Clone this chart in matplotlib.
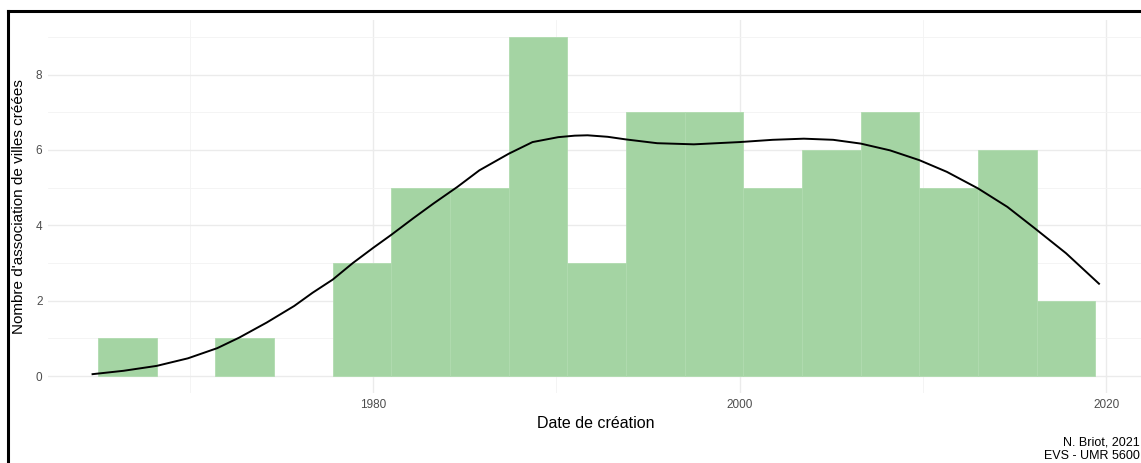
import matplotlib
matplotlib.use("Agg")
import matplotlib.pyplot as plt
from matplotlib.lines import Line2D
import numpy as np

plt.rcParams['font.family'] = ['Liberation Sans', 'DejaVu Sans']

# Histogram bins (year edges) and counts
bin_start = 1965.0
bin_width = 3.2
counts = [1, 0, 1, 0, 3, 5, 5, 9, 3, 7, 7, 5, 6, 7, 5, 6, 2]

# Density curve (scaled to counts)
curve_years = [1964.7, 1966.4, 1968.2, 1969.9, 1971.5, 1972.7, 1974.2, 1975.7,
               1976.7, 1977.8, 1978.9, 1980.0, 1981.0, 1982.2, 1983.3, 1984.6,
               1985.8, 1987.4, 1988.7, 1990.1, 1991.0, 1991.7, 1992.8, 1993.8,
               1995.5, 1997.5, 2000.0, 2001.8, 2003.5, 2005.1, 2006.6, 2008.2,
               2009.8, 2011.3, 2013.0, 2014.6, 2016.1, 2017.8, 2019.6]
curve_vals = [0.05, 0.14, 0.27, 0.47, 0.74, 1.02, 1.42, 1.86,
              2.21, 2.56, 3.00, 3.40, 3.75, 4.19, 4.58, 5.02,
              5.46, 5.90, 6.21, 6.34, 6.38, 6.39, 6.35, 6.28,
              6.18, 6.15, 6.21, 6.27, 6.30, 6.27, 6.17, 5.99,
              5.73, 5.42, 4.98, 4.49, 3.92, 3.26, 2.45]

x_ticks = [1980, 2000, 2020]
x_minor = [1970, 1990, 2010]
y_ticks = [0, 2, 4, 6, 8]
y_minor = [1, 3, 5, 7, 9]

W, H = 1141, 463
fig = plt.figure(figsize=(W / 100, H / 100), dpi=100)
ax = fig.add_axes([48 / W, 70 / H, (1143 - 48) / W, (393 - 20) / H])

edges = bin_start + bin_width * np.arange(len(counts) + 1)
lws = [0.6 if c > 0 else 0.0 for c in counts]
ax.bar(edges[:-1], counts, width=bin_width, align='edge',
       color='#a4d4a3', edgecolor='#b0dbaf', linewidth=lws, zorder=2)
ax.plot(curve_years, curve_vals, color='black', linewidth=1.4, zorder=3,
        solid_joinstyle='round')

ax.set_xlim(1962.27, 2022.0)
ax.set_ylim(-0.45, 9.45)
ax.set_xticks(x_ticks)
ax.set_xticks(x_minor, minor=True)
ax.set_yticks(y_ticks)
ax.set_yticks(y_minor, minor=True)
ax.grid(True, which='major', color='#ebebeb', linewidth=1.0, zorder=0)
ax.grid(True, which='minor', color='#f3f3f3', linewidth=0.6, zorder=0)
ax.set_axisbelow(True)
for s in ax.spines.values():
    s.set_visible(False)
ax.tick_params(which='both', length=0)
ax.tick_params(axis='both', labelsize=8.5, labelcolor='#4d4d4d', pad=4)

ax.set_xlabel('Date de création', fontsize=11.5, color='black', labelpad=4)
ax.set_ylabel("Nombre d'association de villes créées", fontsize=11,
              color='black', labelpad=7)

fig.text(1140 / W, 1 - 449 / H, 'N. Briot, 2021\nEVS - UMR 5600',
         ha='right', va='center', fontsize=9, color='black', linespacing=1.15)

# screenshot frame (top and left black lines)
fig.add_artist(Line2D([7.5 / W, 1.0], [1 - 11 / H, 1 - 11 / H],
                      transform=fig.transFigure, color='black', linewidth=2.2))
fig.add_artist(Line2D([8 / W, 8 / W], [0, 1 - 11 / H],
                      transform=fig.transFigure, color='black', linewidth=2.2))

fig.savefig('out.png', dpi=100)
